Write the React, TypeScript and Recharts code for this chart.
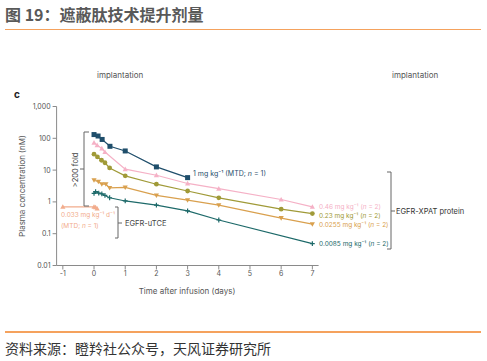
import React from "react";
import { ComposedChart, Line, XAxis, YAxis } from "recharts";

const xTicks = [-1, 0, 1, 2, 3, 4, 5, 6, 7];
const yTicks = [0.01, 0.1, 1, 10, 100, 1000];

const navyT = [0, 0.13, 0.26, 0.51, 1, 2, 3];
const navyV = [131, 118, 92, 56, 40, 12.6, 5.8];
const pinkT = [0, 0.1, 0.25, 0.35, 1, 2, 3, 4, 6, 7];
const pinkV = [73, 61, 48, 37, 10.7, 6.9, 3.8, 2.6, 1.19, 0.7];
const oliveT = [0, 0.11, 0.24, 0.35, 0.5, 1, 2, 3, 4, 6, 7];
const oliveV = [31.6, 26, 20.4, 17, 11.7, 6.6, 3.6, 2.2, 1.34, 0.59, 0.43];
const goldT = [0, 0.14, 0.25, 0.38, 0.5, 1, 2, 3, 4, 6, 7];
const goldV = [4.8, 4.3, 3.6, 3.6, 2.75, 2.85, 1.6, 1.13, 0.79, 0.31, 0.2];
const tealT = [0, 0.05, 0.15, 0.25, 0.35, 0.5, 1, 2, 3, 4, 7];
const tealV = [1.85, 2.1, 1.9, 1.8, 1.6, 1.35, 1.07, 0.79, 0.52, 0.27, 0.049];
const salmonT = [-1, 0, 0.05, 0.1];
const salmonV = [0.7, 0.7, 0.68, 0.62];

const zip = (t: number[], v: number[]) => t.map((x, i) => ({ t: x, v: v[i] }));

const C = {
  navy: "#1f4e6b",
  pink: "#f5b1c6",
  olive: "#a09a38",
  gold: "#d9a04e",
  teal: "#1e6a6a",
  salmon: "#f2ac8c",
};

type Shape = "square" | "tri" | "circle" | "itri" | "plus";
const mk = (shape: Shape, color: string) => (p: any) => {
  const { cx, cy, key } = p;
  if (cx == null || cy == null) return <g key={key} />;
  if (shape === "square") return <rect key={key} x={cx - 2.5} y={cy - 2.5} width={5} height={5} fill={color} />;
  if (shape === "circle") return <circle key={key} cx={cx} cy={cy} r={2.4} fill={color} />;
  if (shape === "tri")
    return <polygon key={key} points={`${cx},${cy - 2.6} ${cx - 2.6},${cy + 2} ${cx + 2.6},${cy + 2}`} fill={color} />;
  if (shape === "itri")
    return <polygon key={key} points={`${cx},${cy + 2.6} ${cx - 2.6},${cy - 2} ${cx + 2.6},${cy - 2}`} fill={color} />;
  return (
    <g key={key} stroke={color} strokeWidth={1.2}>
      <line x1={cx - 2.4} y1={cy} x2={cx + 2.4} y2={cy} />
      <line x1={cx} y1={cy - 2.4} x2={cx} y2={cy + 2.4} />
    </g>
  );
};

const series: { name: string; data: { t: number; v: number }[]; color: string; shape: Shape }[] = [
  { name: "salmon", data: zip(salmonT, salmonV), color: C.salmon, shape: "tri" },
  { name: "teal", data: zip(tealT, tealV), color: C.teal, shape: "plus" },
  { name: "gold", data: zip(goldT, goldV), color: C.gold, shape: "itri" },
  { name: "olive", data: zip(oliveT, oliveV), color: C.olive, shape: "circle" },
  { name: "pink", data: zip(pinkT, pinkV), color: C.pink, shape: "tri" },
  { name: "navy", data: zip(navyT, navyV), color: C.navy, shape: "square" },
];

const FONT = "Inter, 'Noto Sans', sans-serif";
const CJK = "'Noto Sans CJK SC', sans-serif";

export default function App() {
  return (
    <div style={{ position: "absolute", left: 0, top: 0, width: 487, height: 361, background: "#fff" }}>
      <div style={{ position: "absolute", left: 5, top: 2, fontFamily: CJK, fontSize: 16, fontWeight: 700, color: "#595959", whiteSpace: "nowrap" }}>
        图 19：遮蔽肽技术提升剂量
      </div>
      <div style={{ position: "absolute", left: 5, top: 28.5, width: 476, height: 1.5, background: "#f5a25d" }} />
      <div style={{ position: "absolute", left: 5, top: 331, width: 476, height: 1.5, background: "#f5a25d" }} />
      <div style={{ position: "absolute", left: 5, top: 338, fontFamily: CJK, fontSize: 14, color: "#333", whiteSpace: "nowrap" }}>
        资料来源：瞪羚社公众号，天风证券研究所
      </div>
      <div style={{ position: "absolute", left: 0, top: 0 }}>
        <ComposedChart width={487} height={361} margin={{ top: 106.5, right: 168.4, bottom: 65.5, left: 16.6 }}>
          <XAxis
            type="number"
            dataKey="t"
            domain={[-1.2, 7.2]}
            ticks={xTicks}
            allowDataOverflow
            height={30}
            tickSize={4}
            axisLine={{ stroke: "#8a8a8a" }}
            tickLine={{ stroke: "#8a8a8a" }}
            tick={{ fontSize: 7, fill: "#555", fontFamily: FONT }}
          />
          <YAxis
            type="number"
            dataKey="v"
            scale="log"
            domain={[0.01, 1000]}
            ticks={yTicks}
            allowDataOverflow
            width={40}
            tickSize={4}
            axisLine={{ stroke: "#8a8a8a" }}
            tickLine={{ stroke: "#8a8a8a" }}
            tick={{ fontSize: 7, fill: "#555", fontFamily: FONT }}
            tickFormatter={(v: number) => (v === 1000 ? "1,000" : String(v))}
          />
          {series.map((s) => (
            <Line
              key={s.name}
              data={s.data}
              dataKey="v"
              type="linear"
              stroke={s.color}
              strokeWidth={1.2}
              dot={mk(s.shape, s.color)}
              activeDot={false}
              isAnimationActive={false}
            />
          ))}
        </ComposedChart>
      </div>
      <svg width={487} height={361} style={{ position: "absolute", left: 0, top: 0, pointerEvents: "none" }} fontFamily={FONT}>
        <text x={97} y={78} fontSize={8} fill="#555">implantation</text>
        <text x={392} y={78} fontSize={8} fill="#555">implantation</text>
        <text x={14} y={98} fontSize={10} fontWeight={700} fill="#222">c</text>
        <text transform="translate(25,186) rotate(-90)" textAnchor="middle" fontSize={8} fill="#555">Plasma concentration (nM)</text>
        <text x={187} y={294} textAnchor="middle" fontSize={8} fill="#555">Time after infusion (days)</text>
        <g stroke="#666" strokeWidth={1} fill="none">
          <polyline points="89,132 84,132 84,206 89,206" />
          <line x1={80} y1={169} x2={84} y2={169} />
        </g>
        <text transform="translate(78,170) rotate(-90)" textAnchor="middle" fontSize={7.5} fill="#444">&gt;200 fold</text>
        <g stroke="#666" strokeWidth={1} fill="none">
          <polyline points="115,207 118,207 118,238 115,238" />
          <line x1={118} y1={223} x2={122} y2={223} />
        </g>
        <text x={125} y={226} fontSize={7.5} fill="#444">EGFR-uTCE</text>
        <text x={61} y={217} fontSize={6.5} fill={C.salmon}>0.033 mg kg⁻¹ d⁻¹</text>
        <text x={61} y={228} fontSize={6.5} fill={C.salmon}>(MTD; <tspan fontStyle="italic">n</tspan> = 1)</text>
        <text x={193} y={176} fontSize={7} fill={C.navy}>1 mg kg⁻¹ (MTD; <tspan fontStyle="italic">n</tspan> = 1)</text>
        <text x={319} y={209} fontSize={6.5} fill={C.pink}>0.46 mg kg⁻¹ (<tspan fontStyle="italic">n</tspan> = 2)</text>
        <text x={319} y={217.5} fontSize={6.5} fill={C.olive}>0.23 mg kg⁻¹ (<tspan fontStyle="italic">n</tspan> = 2)</text>
        <text x={319} y={226.5} fontSize={6.5} fill={C.gold}>0.0255 mg kg⁻¹ (<tspan fontStyle="italic">n</tspan> = 2)</text>
        <text x={319} y={245.5} fontSize={6.5} fill={C.teal}>0.0085 mg kg⁻¹ (<tspan fontStyle="italic">n</tspan> = 2)</text>
        <g stroke="#666" strokeWidth={1} fill="none">
          <polyline points="387,172 391,172 391,249 387,249" />
          <line x1={391} y1={211} x2={395} y2={211} />
        </g>
        <text x={396} y={214} fontSize={7.5} fill="#333">EGFR-XPAT protein</text>
      </svg>
    </div>
  );
}
